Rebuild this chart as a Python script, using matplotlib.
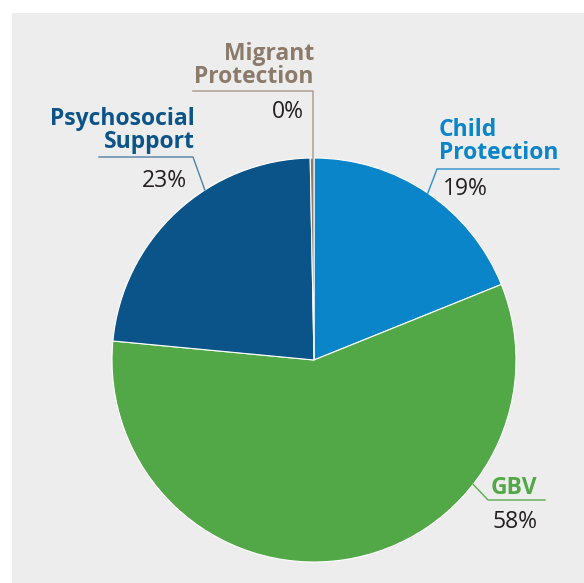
import matplotlib.pyplot as plt
import numpy as np
from matplotlib.patches import Rectangle

# Share of funding by protection area
areas = ['Child\nProtection', 'GBV', 'Psychosocial\nSupport', 'Migrant\nProtection']
shares = [18.9, 57.6, 23.2, 0.3]
colors = ['#0a85ca', '#52a847', '#0b5489', '#8c7b6a']
line_colors = ['#2a8fcc', '#5aad4e', '#4f80a8', '#b3a696']

W, H = 584, 583
plt.rcParams['font.family'] = ['Open Sans', 'DejaVu Sans']

fig = plt.figure(figsize=(W / 100, H / 100), dpi=100)
ax = fig.add_axes([0, 0, 1, 1])

def Y(y):
    return H - y

# grey panel
ax.add_patch(Rectangle((12, 0), W - 12, Y(13), facecolor='#ededed', edgecolor='none', zorder=0))

cx, cy, r = 314, Y(360), 202
wedges, _ = ax.pie(shares, colors=colors, startangle=90, counterclock=False,
                   center=(cx, cy), radius=r,
                   wedgeprops=dict(edgecolor='white', linewidth=0.8))

ax.set_xlim(0, W)
ax.set_ylim(0, H)
ax.set_aspect('auto')
ax.axis('off')

def pct(v):
    return f'{v:.0f}%'

def edge(angle):
    a = np.radians(angle)
    return cx + r * np.cos(a), cy + r * np.sin(a)

def name(x, y_last, label, color, ha):
    # one text per line, baselines 23 px apart, last line at y_last
    lines = label.split('\n')
    for i, line in enumerate(lines):
        yb = y_last - 23 * (len(lines) - 1 - i)
        ax.text(x, Y(yb), line, color=color, ha=ha, va='baseline',
                fontsize=16.5, fontweight='bold')

val_kw = dict(fontsize=16.5, color='#231f20', va='baseline')

# Child Protection
x0, y0 = edge(55.7)
ax.plot([x0, 437, 559], [y0, Y(169), Y(169)], color=line_colors[0], lw=1)
name(439, 159, areas[0], colors[0], 'left')
ax.text(443, Y(195), pct(shares[0]), ha='left', **val_kw)

# GBV
x0, y0 = edge(-38)
ax.plot([x0, 488, 545], [y0, Y(500), Y(500)], color=line_colors[1], lw=1)
name(491, 494, areas[1], colors[1], 'left')
ax.text(492, Y(528), pct(shares[1]), ha='left', **val_kw)

# Psychosocial Support
x0, y0 = edge(122.7)
ax.plot([x0, 193, 99], [y0, Y(157), Y(157)], color=line_colors[2], lw=1)
name(195, 148, areas[2], colors[2], 'right')
ax.text(187, Y(187), pct(shares[2]), ha='right', **val_kw)

# Migrant Protection
x0, y0 = edge(90.4)
ax.plot([x0, x0, 193], [y0, Y(91), Y(91)], color=line_colors[3], lw=1.2)
name(314, 83, areas[3], colors[3], 'right')
ax.text(304, Y(118), pct(shares[3]), ha='right', **val_kw)

fig.savefig('out.png', dpi=100, facecolor='white')
